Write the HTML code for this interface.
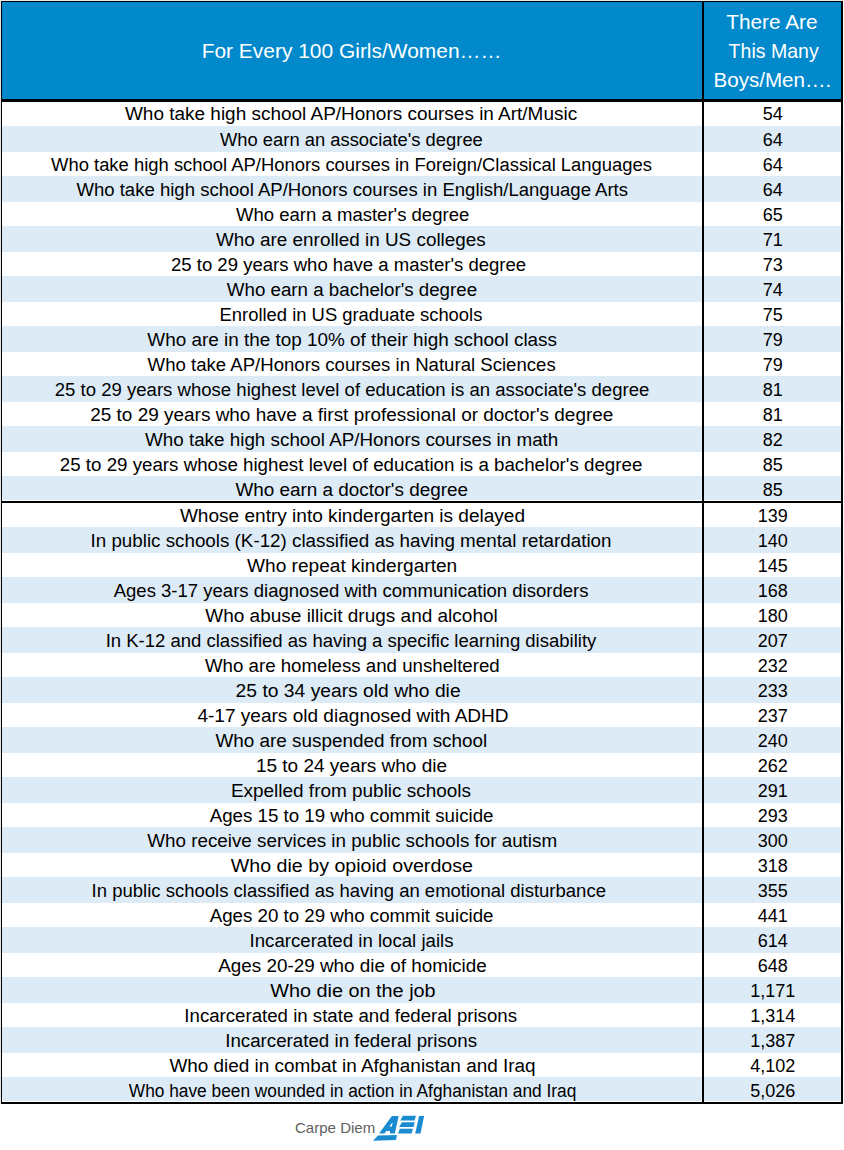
<!DOCTYPE html>
<html><head><meta charset="utf-8"><title>For Every 100 Girls/Women</title>
<style>
*{margin:0;padding:0;box-sizing:border-box}
html,body{width:844px;height:1150px;background:#fff;overflow:hidden}
body{position:relative;font-family:"Liberation Sans",Arial,sans-serif;color:#000}
.a{position:absolute}
.k{background:#000}
.t{position:absolute;white-space:nowrap;text-align:center;line-height:20px;height:20px}
.l{left:2px;width:700px}
.r{left:704px;width:137px}
.t span{display:inline-block;transform-origin:50% 50%}
.h{color:#fff}
</style></head><body>

<div class="a" style="left:0;top:0;width:843px;height:1px;background:#e6e6e6"></div>
<div class="a" style="left:0;top:0;width:1px;height:1104px;background:#e6e6e6"></div>
<div class="a" style="left:2px;top:2px;width:839px;height:97px;background:#0189cb"></div>
<div class="a" style="left:2px;top:126px;width:839px;height:26px;background:#ddebf7"></div>
<div class="a" style="left:2px;top:176px;width:839px;height:26px;background:#ddebf7"></div>
<div class="a" style="left:2px;top:226px;width:839px;height:26px;background:#ddebf7"></div>
<div class="a" style="left:2px;top:276px;width:839px;height:26px;background:#ddebf7"></div>
<div class="a" style="left:2px;top:326px;width:839px;height:26px;background:#ddebf7"></div>
<div class="a" style="left:2px;top:376px;width:839px;height:26px;background:#ddebf7"></div>
<div class="a" style="left:2px;top:426px;width:839px;height:26px;background:#ddebf7"></div>
<div class="a" style="left:2px;top:476px;width:839px;height:24px;background:#ddebf7"></div>
<div class="a" style="left:2px;top:527px;width:839px;height:26px;background:#ddebf7"></div>
<div class="a" style="left:2px;top:577px;width:839px;height:26px;background:#ddebf7"></div>
<div class="a" style="left:2px;top:627px;width:839px;height:26px;background:#ddebf7"></div>
<div class="a" style="left:2px;top:677px;width:839px;height:26px;background:#ddebf7"></div>
<div class="a" style="left:2px;top:727px;width:839px;height:26px;background:#ddebf7"></div>
<div class="a" style="left:2px;top:777px;width:839px;height:26px;background:#ddebf7"></div>
<div class="a" style="left:2px;top:827px;width:839px;height:26px;background:#ddebf7"></div>
<div class="a" style="left:2px;top:877px;width:839px;height:26px;background:#ddebf7"></div>
<div class="a" style="left:2px;top:927px;width:839px;height:26px;background:#ddebf7"></div>
<div class="a" style="left:2px;top:977px;width:839px;height:26px;background:#ddebf7"></div>
<div class="a" style="left:2px;top:1027px;width:839px;height:26px;background:#ddebf7"></div>
<div class="a" style="left:2px;top:1077px;width:839px;height:24px;background:#ddebf7"></div>
<div class="a k" style="left:1px;top:1px;width:842px;height:1px"></div>
<div class="a k" style="left:1px;top:1px;width:1px;height:1103px"></div>
<div class="a k" style="left:841px;top:1px;width:2px;height:1103px"></div>
<div class="a k" style="left:1px;top:1102px;width:842px;height:2px"></div>
<div class="a k" style="left:1px;top:99px;width:842px;height:3px"></div>
<div class="a k" style="left:1px;top:501px;width:842px;height:2px"></div>
<div class="a k" style="left:702px;top:1px;width:2px;height:1103px"></div>
<div class="t l h" style="top:39px;font-size:21px;line-height:24px;height:24px"><span style="transform:translateX(-0.8px) scaleX(0.997)">For Every 100 Girls/Women……</span></div>
<div class="t r h" style="top:10px;font-size:21px;line-height:24px;height:24px"><span style="transform:translateX(-0.2px) scaleX(0.99)">There Are</span></div>
<div class="t r h" style="top:39px;font-size:21px;line-height:24px;height:24px"><span style="transform:translateX(1.2px) scaleX(0.93)">This Many</span></div>
<div class="t r h" style="top:68px;font-size:21px;line-height:24px;height:24px"><span style="transform:translateX(0.3px) scaleX(0.98)">Boys/Men….</span></div>
<div class="t l" style="top:104px;font-size:18px"><span style="transform:translateX(-0.55px) scaleX(1.0535)">Who take high school AP/Honors courses in Art/Music</span></div>
<div class="t r" style="top:104px;font-size:18px"><span style="transform:translateX(0.3px) scaleX(1.0)">54</span></div>
<div class="t l" style="top:130px;font-size:18px"><span style="transform:translateX(-0.39px) scaleX(1.0202)">Who earn an associate's degree</span></div>
<div class="t r" style="top:130px;font-size:18px"><span style="transform:translateX(0.3px) scaleX(1.0)">64</span></div>
<div class="t l" style="top:155px;font-size:18px"><span style="transform:translateX(-0.14px) scaleX(1.0233)">Who take high school AP/Honors courses in Foreign/Classical Languages</span></div>
<div class="t r" style="top:155px;font-size:18px"><span style="transform:translateX(0.3px) scaleX(1.0)">64</span></div>
<div class="t l" style="top:180px;font-size:18px"><span style="transform:translateX(0.57px) scaleX(1.0305)">Who take high school AP/Honors courses in English/Language Arts</span></div>
<div class="t r" style="top:180px;font-size:18px"><span style="transform:translateX(0.3px) scaleX(1.0)">64</span></div>
<div class="t l" style="top:205px;font-size:18px"><span style="transform:translateX(0.35px) scaleX(1.0296)">Who earn a master's degree</span></div>
<div class="t r" style="top:205px;font-size:18px"><span style="transform:translateX(0.3px) scaleX(1.0)">65</span></div>
<div class="t l" style="top:230px;font-size:18px"><span style="transform:translateX(-0.7px) scaleX(1.0492)">Who are enrolled in US colleges</span></div>
<div class="t r" style="top:230px;font-size:18px"><span style="transform:translateX(0.3px) scaleX(1.0)">71</span></div>
<div class="t l" style="top:255px;font-size:18px"><span style="transform:translateX(-3.77px) scaleX(1.0306)">25 to 29 years who have a master's degree</span></div>
<div class="t r" style="top:255px;font-size:18px"><span style="transform:translateX(0.3px) scaleX(1.0)">73</span></div>
<div class="t l" style="top:280px;font-size:18px"><span style="transform:translateX(-0.35px) scaleX(1.0404)">Who earn a bachelor's degree</span></div>
<div class="t r" style="top:280px;font-size:18px"><span style="transform:translateX(0.3px) scaleX(1.0)">74</span></div>
<div class="t l" style="top:305px;font-size:18px"><span style="transform:translateX(-0.61px) scaleX(1.022)">Enrolled in US graduate schools</span></div>
<div class="t r" style="top:305px;font-size:18px"><span style="transform:translateX(0.3px) scaleX(1.0)">75</span></div>
<div class="t l" style="top:330px;font-size:18px"><span style="transform:translateX(0.05px) scaleX(1.05)">Who are in the top 10% of their high school class</span></div>
<div class="t r" style="top:330px;font-size:18px"><span style="transform:translateX(0.3px) scaleX(1.0)">79</span></div>
<div class="t l" style="top:355px;font-size:18px"><span style="transform:translateX(0.05px) scaleX(1.0327)">Who take AP/Honors courses in Natural Sciences</span></div>
<div class="t r" style="top:355px;font-size:18px"><span style="transform:translateX(0.3px) scaleX(1.0)">79</span></div>
<div class="t l" style="top:380px;font-size:18px"><span style="transform:translateX(-0.35px) scaleX(1.0307)">25 to 29 years whose highest level of education is an associate's degree</span></div>
<div class="t r" style="top:380px;font-size:18px"><span style="transform:translateX(0.3px) scaleX(1.0)">81</span></div>
<div class="t l" style="top:405px;font-size:18px"><span style="transform:translateX(-0.58px) scaleX(1.0531)">25 to 29 years who have a first professional or doctor's degree</span></div>
<div class="t r" style="top:405px;font-size:18px"><span style="transform:translateX(0.3px) scaleX(1.0)">81</span></div>
<div class="t l" style="top:430px;font-size:18px"><span style="transform:translateX(0.05px) scaleX(1.0459)">Who take high school AP/Honors courses in math</span></div>
<div class="t r" style="top:430px;font-size:18px"><span style="transform:translateX(0.3px) scaleX(1.0)">82</span></div>
<div class="t l" style="top:455px;font-size:18px"><span style="transform:translateX(-0.85px) scaleX(1.0407)">25 to 29 years whose highest level of education is a bachelor's degree</span></div>
<div class="t r" style="top:455px;font-size:18px"><span style="transform:translateX(0.3px) scaleX(1.0)">85</span></div>
<div class="t l" style="top:480px;font-size:18px"><span style="transform:translateX(-0.08px) scaleX(1.0498)">Who earn a doctor's degree</span></div>
<div class="t r" style="top:480px;font-size:18px"><span style="transform:translateX(0.3px) scaleX(1.0)">85</span></div>
<div class="t l" style="top:506px;font-size:18px"><span style="transform:translateX(0.38px) scaleX(1.0582)">Whose entry into kindergarten is delayed</span></div>
<div class="t r" style="top:506px;font-size:18px"><span style="transform:translateX(0.3px) scaleX(1.0)">139</span></div>
<div class="t l" style="top:531px;font-size:18px"><span style="transform:translateX(-0.62px) scaleX(1.0435)">In public schools (K-12) classified as having mental retardation</span></div>
<div class="t r" style="top:531px;font-size:18px"><span style="transform:translateX(0.3px) scaleX(1.0)">140</span></div>
<div class="t l" style="top:556px;font-size:18px"><span style="transform:translateX(0.03px) scaleX(1.0609)">Who repeat kindergarten</span></div>
<div class="t r" style="top:556px;font-size:18px"><span style="transform:translateX(0.3px) scaleX(1.0)">145</span></div>
<div class="t l" style="top:581px;font-size:18px"><span style="transform:translateX(-0.55px) scaleX(1.0293)">Ages 3-17 years diagnosed with communication disorders</span></div>
<div class="t r" style="top:581px;font-size:18px"><span style="transform:translateX(0.3px) scaleX(1.0)">168</span></div>
<div class="t l" style="top:606px;font-size:18px"><span style="transform:translateX(-0.07px) scaleX(1.0553)">Who abuse illicit drugs and alcohol</span></div>
<div class="t r" style="top:606px;font-size:18px"><span style="transform:translateX(0.3px) scaleX(1.0)">180</span></div>
<div class="t l" style="top:631px;font-size:18px"><span style="transform:translateX(-0.66px) scaleX(1.028)">In K-12 and classified as having a specific learning disability</span></div>
<div class="t r" style="top:631px;font-size:18px"><span style="transform:translateX(0.3px) scaleX(1.0)">207</span></div>
<div class="t l" style="top:656px;font-size:18px"><span style="transform:translateX(0.27px) scaleX(1.0371)">Who are homeless and unsheltered</span></div>
<div class="t r" style="top:656px;font-size:18px"><span style="transform:translateX(0.3px) scaleX(1.0)">232</span></div>
<div class="t l" style="top:681px;font-size:18px"><span style="transform:translateX(-3.95px) scaleX(1.0707)">25 to 34 years old who die</span></div>
<div class="t r" style="top:681px;font-size:18px"><span style="transform:translateX(0.3px) scaleX(1.0)">233</span></div>
<div class="t l" style="top:706px;font-size:18px"><span style="transform:translateX(0.93px) scaleX(1.058)">4-17 years old diagnosed with ADHD</span></div>
<div class="t r" style="top:706px;font-size:18px"><span style="transform:translateX(0.3px) scaleX(1.0)">237</span></div>
<div class="t l" style="top:731px;font-size:18px"><span style="transform:translateX(-0.23px) scaleX(1.0486)">Who are suspended from school</span></div>
<div class="t r" style="top:731px;font-size:18px"><span style="transform:translateX(0.3px) scaleX(1.0)">240</span></div>
<div class="t l" style="top:756px;font-size:18px"><span style="transform:translateX(-0.08px) scaleX(1.0553)">15 to 24 years who die</span></div>
<div class="t r" style="top:756px;font-size:18px"><span style="transform:translateX(0.3px) scaleX(1.0)">262</span></div>
<div class="t l" style="top:781px;font-size:18px"><span style="transform:translateX(-1.08px) scaleX(1.0524)">Expelled from public schools</span></div>
<div class="t r" style="top:781px;font-size:18px"><span style="transform:translateX(0.3px) scaleX(1.0)">291</span></div>
<div class="t l" style="top:806px;font-size:18px"><span style="transform:translateX(0.0px) scaleX(1.039)">Ages 15 to 19 who commit suicide</span></div>
<div class="t r" style="top:806px;font-size:18px"><span style="transform:translateX(0.3px) scaleX(1.0)">293</span></div>
<div class="t l" style="top:831px;font-size:18px"><span style="transform:translateX(0.12px) scaleX(1.045)">Who receive services in public schools for autism</span></div>
<div class="t r" style="top:831px;font-size:18px"><span style="transform:translateX(0.3px) scaleX(1.0)">300</span></div>
<div class="t l" style="top:856px;font-size:18px"><span style="transform:translateX(-0.2px) scaleX(1.09)">Who die by opioid overdose</span></div>
<div class="t r" style="top:856px;font-size:18px"><span style="transform:translateX(0.3px) scaleX(1.0)">318</span></div>
<div class="t l" style="top:881px;font-size:18px"><span style="transform:translateX(-3.4px) scaleX(1.0281)">In public schools classified as having an emotional disturbance</span></div>
<div class="t r" style="top:881px;font-size:18px"><span style="transform:translateX(0.3px) scaleX(1.0)">355</span></div>
<div class="t l" style="top:906px;font-size:18px"><span style="transform:translateX(0.0px) scaleX(1.039)">Ages 20 to 29 who commit suicide</span></div>
<div class="t r" style="top:906px;font-size:18px"><span style="transform:translateX(0.3px) scaleX(1.0)">441</span></div>
<div class="t l" style="top:931px;font-size:18px"><span style="transform:translateX(-0.02px) scaleX(1.0349)">Incarcerated in local jails</span></div>
<div class="t r" style="top:931px;font-size:18px"><span style="transform:translateX(0.3px) scaleX(1.0)">614</span></div>
<div class="t l" style="top:956px;font-size:18px"><span style="transform:translateX(0.37px) scaleX(1.0482)">Ages 20-29 who die of homicide</span></div>
<div class="t r" style="top:956px;font-size:18px"><span style="transform:translateX(0.3px) scaleX(1.0)">648</span></div>
<div class="t l" style="top:981px;font-size:18px"><span style="transform:translateX(0.9px) scaleX(1.1013)">Who die on the job</span></div>
<div class="t r" style="top:981px;font-size:18px"><span style="transform:translateX(0.3px) scaleX(1.0)">1,171</span></div>
<div class="t l" style="top:1006px;font-size:18px"><span style="transform:translateX(-0.92px) scaleX(1.0357)">Incarcerated in state and federal prisons</span></div>
<div class="t r" style="top:1006px;font-size:18px"><span style="transform:translateX(0.3px) scaleX(1.0)">1,314</span></div>
<div class="t l" style="top:1031px;font-size:18px"><span style="transform:translateX(-0.94px) scaleX(1.04)">Incarcerated in federal prisons</span></div>
<div class="t r" style="top:1031px;font-size:18px"><span style="transform:translateX(0.3px) scaleX(1.0)">1,387</span></div>
<div class="t l" style="top:1056px;font-size:18px"><span style="transform:translateX(0.38px) scaleX(1.0516)">Who died in combat in Afghanistan and Iraq</span></div>
<div class="t r" style="top:1056px;font-size:18px"><span style="transform:translateX(0.3px) scaleX(1.0)">4,102</span></div>
<div class="t l" style="top:1081px;font-size:18px"><span style="transform:translateX(0.88px) scaleX(0.9617)">Who have been wounded in action in Afghanistan and Iraq</span></div>
<div class="t r" style="top:1081px;font-size:18px"><span style="transform:translateX(0.3px) scaleX(1.0)">5,026</span></div>
<div class="a" id="cd" style="left:295px;top:1117.5px;font-size:14.5px;line-height:20px;color:#616161;white-space:nowrap"><span style="display:inline-block;transform-origin:0 50%;transform:scaleX(1.037)">Carpe Diem</span></div>
<svg class="a" style="left:370px;top:1112px" width="58" height="32" viewBox="370 1112 58 32"><g fill="#1a8bd1"><path fill-rule="evenodd" d="M379.1,1133.4 L391.9,1116 L398.7,1116 L394.8,1133.4 L390.1,1133.4 L389.8,1131.1 L386.2,1131.1 L384.6,1133.4 Z M392.6,1122.2 L389.4,1126.5 L391.9,1126.5 Z"/><path d="M373.1,1140.8 L377.9,1135.4 L397.0,1135.0 L396.0,1139.9 Z"/><path d="M402.8,1115.8 L416,1115.8 L414.6,1120.6 L400.4,1120.6 Z"/><path d="M401.9,1122.2 L414.8,1122.2 L413.5,1127 L399.2,1127 Z"/><path d="M399.9,1128.8 L412.8,1128.8 L411.6,1133.5 L398,1133.5 Z"/><path d="M419.1,1116 L424.1,1116 L420.5,1133.4 L415.2,1133.4 Z"/></g></svg>
</body></html>
